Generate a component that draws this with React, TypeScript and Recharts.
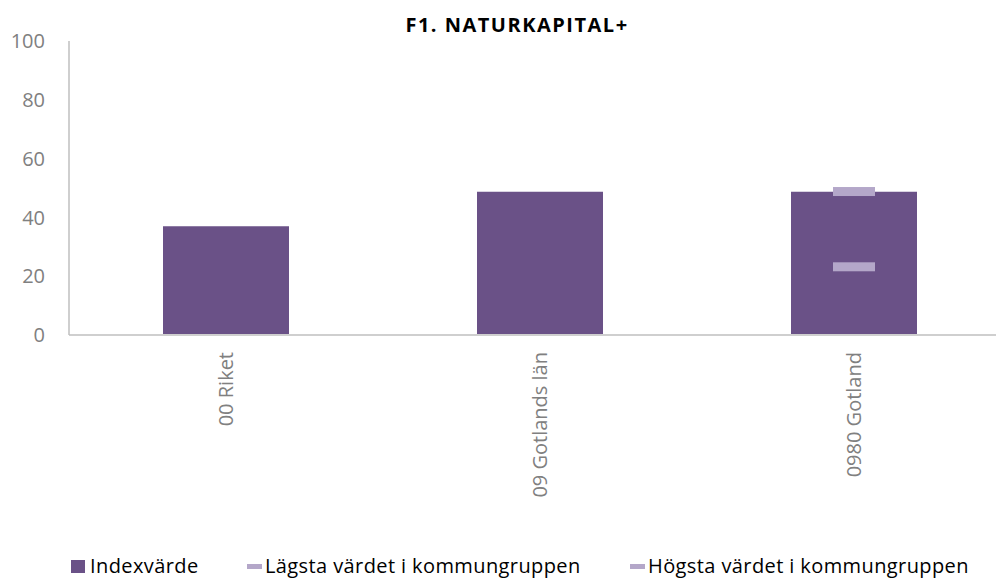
import { ComposedChart, Bar, Scatter, XAxis, YAxis } from "recharts"

const categories = ["00 Riket", "09 Gotlands län", "0980 Gotland"]
const indexValues = [37, 48.7, 48.7]
const lowestValues: (number | null)[] = [null, null, 23.2]
const highestValues: (number | null)[] = [null, null, 48.8]
const yTicks = [0, 20, 40, 60, 80, 100]
const seriesNames = ["Indexvärde", "Lägsta värdet i kommungruppen", "Högsta värdet i kommungruppen"]
const title = "F1. NATURKAPITAL+"

const BAR = "#6a5187"
const MARK = "#b4a7c9"
const GREY = "#808080"
const FONT = "'Open Sans', sans-serif"

const data = categories.map((name, i) => ({
  name,
  index: indexValues[i],
  low: lowestValues[i],
  high: highestValues[i],
}))

const Dash = (props: any) => {
  const { cx, cy } = props
  if (!Number.isFinite(cx) || !Number.isFinite(cy)) return null
  return <rect x={cx - 21} y={cy - 4.5} width={42} height={9} fill={MARK} />
}

const XTick = (props: any) => {
  const { x, y, payload } = props
  return (
    <text
      x={x}
      y={y}
      transform={`rotate(-90, ${x}, ${y})`}
      textAnchor="end"
      dy="0.36em"
      fill={GREY}
      fontSize={20}
      fontFamily={FONT}
    >
      {payload.value}
    </text>
  )
}

export default function App() {
  const legendLeft = [71, 247, 630]
  return (
    <div style={{ position: "absolute", left: 0, top: 0, width: 996, height: 579, overflow: "hidden", background: "#fff" }}>
      <div
        style={{
          position: "absolute",
          left: 0,
          width: 1034,
          top: 13,
          textAlign: "center",
          fontFamily: FONT,
          fontWeight: 700,
          fontSize: 20,
          letterSpacing: 1.5,
          color: "#000",
          lineHeight: "24px",
        }}
      >
        {title}
      </div>
      <ComposedChart
        width={1020}
        height={579}
        data={data}
        margin={{ top: 41, right: 9, left: 0, bottom: 44 }}
        barSize={126}
      >
        <XAxis
          dataKey="name"
          interval={0}
          tickLine={false}
          axisLine={{ stroke: "#cfcfcf", strokeWidth: 2 }}
          tick={<XTick />}
          tickSize={0}
          tickMargin={17}
          height={200}
        />
        <YAxis
          domain={[0, 100]}
          ticks={yTicks}
          width={69}
          tickLine={false}
          tickSize={0}
          tickMargin={24}
          axisLine={{ stroke: "#bfbfbf", strokeWidth: 1.5 }}
          tick={{ fill: GREY, fontSize: 20, fontFamily: FONT }}
        />
        <Bar dataKey="index" name={seriesNames[0]} fill={BAR} isAnimationActive={false} />
        <Scatter dataKey="low" name={seriesNames[1]} fill={MARK} shape={<Dash />} isAnimationActive={false} />
        <Scatter dataKey="high" name={seriesNames[2]} fill={MARK} shape={<Dash />} isAnimationActive={false} />
      </ComposedChart>
      {seriesNames.map((name, i) => (
        <div
          key={name}
          style={{
            position: "absolute",
            left: legendLeft[i],
            top: 555,
            height: 22,
            display: "flex",
            alignItems: "center",
            fontFamily: FONT,
            fontSize: 20,
            letterSpacing: 0.4,
            lineHeight: "22px",
            color: "#000",
            whiteSpace: "nowrap",
          }}
        >
          {i === 0 ? (
            <span style={{ display: "inline-block", width: 14, height: 13, background: BAR, marginRight: 5 }} />
          ) : (
            <span style={{ display: "inline-block", width: 15, height: 5, background: MARK, marginRight: 3 }} />
          )}
          <span>{name}</span>
        </div>
      ))}
    </div>
  )
}
